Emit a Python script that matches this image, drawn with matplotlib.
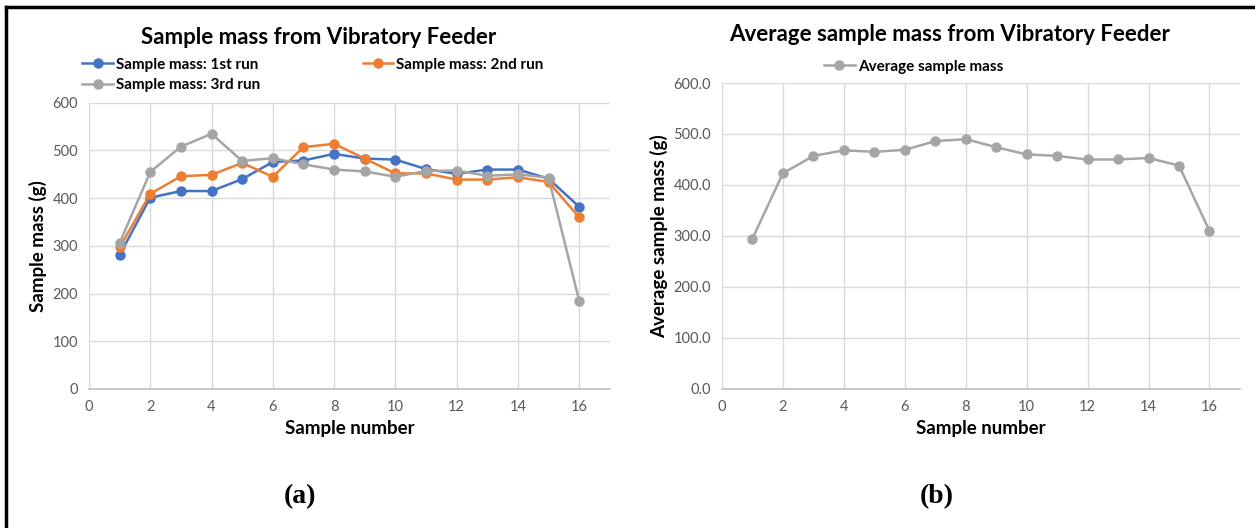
import numpy as np
import matplotlib
matplotlib.use("Agg")
import matplotlib.pyplot as plt
from matplotlib.lines import Line2D

plt.rcParams['font.family'] = ['Lato', 'DejaVu Sans']

sample_no = list(range(1, 17))
run1 = [281, 401, 415, 415, 440, 476, 479, 493, 483, 481, 461, 451, 460, 460, 441, 382]
run2 = [297, 409, 446, 449, 474, 445, 507, 514, 483, 452, 452, 439, 439, 444, 434, 360]
run3 = [306, 455, 508, 535, 478, 484, 471, 460, 456, 445, 457, 458, 447, 450, 443, 185]
avg_mass = [295, 423, 457, 468, 465, 469, 486, 490, 474, 460, 457, 450, 450, 453, 438, 310]

run_labels = ["Sample mass: 1st run", "Sample mass: 2nd run", "Sample mass: 3rd run"]
run_colors = ["#4472C4", "#ED7D31", "#A5A5A5"]

grid_col = "#D9D9D9"
tick_col = "#595959"

fig = plt.figure(figsize=(12.55, 5.28), dpi=100)
ax1 = fig.add_axes([0.0709, 0.2633, 0.415, 0.542])
ax2 = fig.add_axes([0.5753, 0.2633, 0.4127, 0.5795])


def style_axes(ax, yfmt):
    ax.set_xlim(0, 17)
    ax.set_ylim(0, 600)
    ax.set_xticks(np.arange(0, 17, 2))
    ax.set_yticks(np.arange(0, 601, 100))
    ax.set_yticklabels([yfmt.format(v) for v in range(0, 601, 100)])
    ax.grid(True, color=grid_col, linewidth=1.0)
    ax.set_axisbelow(True)
    for s in ["top", "right", "left"]:
        ax.spines[s].set_visible(False)
    ax.spines["bottom"].set_color("#BFBFBF")
    ax.spines["bottom"].set_linewidth(1.2)
    ax.tick_params(length=0, labelsize=10.5, colors=tick_col, pad=8)
    ax.set_xlabel("Sample number", fontsize=13.5, fontweight="bold", labelpad=4)


# (a) three runs
lines = []
for vals, lab, col in zip([run1, run2, run3], run_labels, run_colors):
    ln, = ax1.plot(sample_no, vals, color=col, lw=1.8, marker="o", ms=6.5, label=lab)
    lines.append(ln)
style_axes(ax1, "{:d}")
ax1.set_ylabel("Sample mass (g)", fontsize=13.5, fontweight="bold", labelpad=4)
ax1.set_title("Sample mass from Vibratory Feeder", fontsize=16, fontweight="bold", pad=42, x=0.44)
ax1.legend([lines[0], lines[2], lines[1]], [run_labels[0], run_labels[2], run_labels[1]],
           ncol=2, loc="lower center", bbox_to_anchor=(0.43, 1.016), frameon=False,
           prop={"weight": "bold", "size": 11}, columnspacing=6.7, handlelength=2.0,
           handletextpad=0.2, labelspacing=0.42, borderaxespad=0)

# (b) average
ax2.plot(sample_no, avg_mass, color=run_colors[2], lw=1.8, marker="o", ms=6.5, label="Average sample mass")
style_axes(ax2, "{:.1f}")
ax2.set_ylabel("Average sample mass (g)", fontsize=13.5, fontweight="bold", labelpad=4)
ax2.set_title("Average sample mass from Vibratory Feeder", fontsize=16, fontweight="bold", pad=30, x=0.44)
ax2.legend(loc="lower center", bbox_to_anchor=(0.37, 1.0), frameon=False,
           prop={"weight": "bold", "size": 11}, handlelength=2.0, handletextpad=0.2, borderaxespad=0.2)

# panel letters
fig.text(300 / 1255, 1 - 497 / 528, "(a)", family="Liberation Serif", fontweight="bold",
         fontsize=20, ha="center", va="center")
fig.text(937 / 1255, 1 - 497 / 528, "(b)", family="Liberation Serif", fontweight="bold",
         fontsize=20, ha="center", va="center")

# frame lines (top and left)
fig.add_artist(Line2D([6 / 1255, 1.0], [1 - 7 / 528, 1 - 7 / 528], color="black", lw=2.5,
                      transform=fig.transFigure))
fig.add_artist(Line2D([6 / 1255, 6 / 1255], [0, 1 - 7 / 528], color="black", lw=2.5,
                      transform=fig.transFigure))

fig.savefig("out.png", dpi=100, facecolor="white")
